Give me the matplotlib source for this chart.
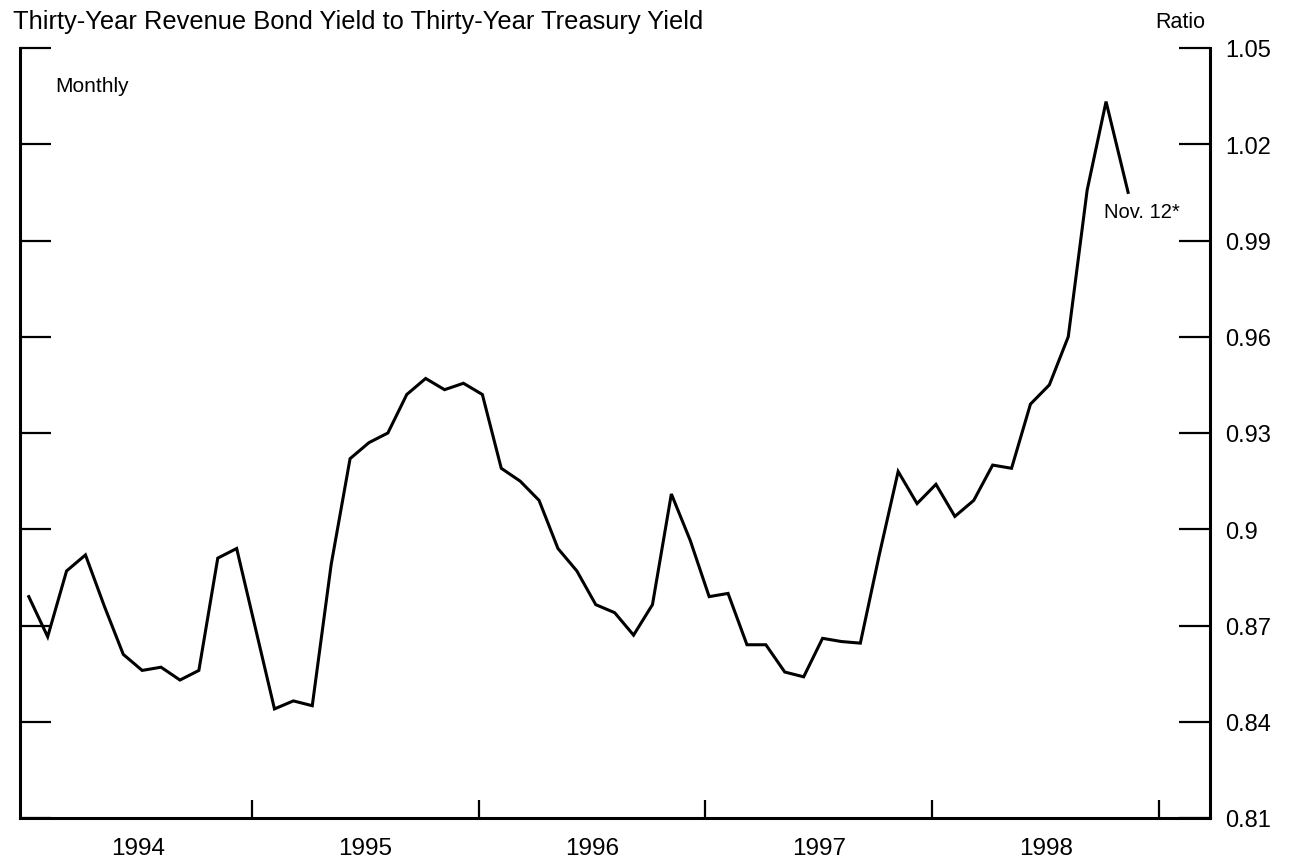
import matplotlib
matplotlib.use("Agg")
import matplotlib.pyplot as plt
from matplotlib.ticker import FixedLocator, NullFormatter, FixedFormatter

plt.rcParams['font.family'] = ['Liberation Sans', 'DejaVu Sans']

# Monthly ratio, Jan 1994 .. Oct 1998
start_year = 1994
ratio = [
    0.879, 0.8665, 0.887, 0.892, 0.876, 0.861, 0.856, 0.857, 0.853, 0.856, 0.891, 0.894,   # 1994
    0.869, 0.844, 0.8465, 0.845, 0.889, 0.922, 0.927, 0.930, 0.942, 0.947, 0.9435, 0.9455,  # 1995
    0.942, 0.919, 0.915, 0.909, 0.894, 0.887, 0.8765, 0.874, 0.867, 0.8765, 0.911, 0.8965,  # 1996
    0.879, 0.880, 0.864, 0.864, 0.8555, 0.854, 0.866, 0.865, 0.8645, 0.892, 0.918, 0.908,  # 1997
    0.914, 0.904, 0.909, 0.920, 0.919, 0.939, 0.945, 0.960, 1.0057, 1.0333,                 # 1998
]
last_label = "Nov. 12*"
last_month = 11      # November
last_day = 12
last_value = 1.005

y_ticks = [0.81, 0.84, 0.87, 0.90, 0.93, 0.96, 0.99, 1.02, 1.05]
y_ticklabels = ["0.81", "0.84", "0.87", "0.9", "0.93", "0.96", "0.99", "1.02", "1.05"]
years = [1994, 1995, 1996, 1997, 1998]
year_bounds = [1995, 1996, 1997, 1998, 1999]

title = "Thirty-Year Revenue Bond Yield to Thirty-Year Treasury Yield"

# positions (fractional years)
x = [start_year + (i + 0.2) / 12 for i in range(len(ratio))]
x_last = 1998 + (last_month - 1 + (last_day - 1) / 30) / 12
xs = x + [x_last]
ys = ratio + [last_value]

W, H = 1291, 862
fig = plt.figure(figsize=(W / 100, H / 100), dpi=100)
fig.patch.set_facecolor("white")
L, R, T, B = 20, 1210, 49, 819
ax = fig.add_axes([L / W, 1 - B / H, (R - L) / W, (B - T) / H])

ax.plot(xs, ys, color="black", lw=2.2, solid_joinstyle="miter")

ax.set_xlim(1993.978, 1999.225)
ax.set_ylim(0.81, 1.05)

for s in ["left", "right", "bottom"]:
    ax.spines[s].set_linewidth(2.2)
ax.spines["top"].set_visible(False)

ax.yaxis.set_major_locator(FixedLocator(y_ticks))
ax.yaxis.set_major_formatter(FixedFormatter(y_ticklabels))
ax.tick_params(axis="y", which="major", direction="in", length=22, width=1.6,
               left=True, right=True, labelleft=False, labelright=True,
               labelsize=17, pad=11)

ax.xaxis.set_major_locator(FixedLocator(year_bounds))
ax.xaxis.set_major_formatter(NullFormatter())
ax.xaxis.set_minor_locator(FixedLocator([y + 0.5 for y in years]))
ax.xaxis.set_minor_formatter(FixedFormatter([str(y) for y in years]))
ax.tick_params(axis="x", which="major", direction="in", length=13, width=1.6)
ax.tick_params(axis="x", which="minor", length=0, labelsize=17.5, pad=14)

ax.annotate(last_label, xy=(x_last, last_value), xytext=(-17, -14),
            textcoords="offset points", ha="left", va="center", fontsize=14.5)

fig.text(13 / W, 1 - 22 / H, title, ha="left", va="center", fontsize=18.4)
fig.text(55 / W, 1 - 87 / H, "Monthly", ha="left", va="center", fontsize=15)
fig.text(1205 / W, 1 - 22.5 / H, "Ratio", ha="right", va="center", fontsize=15.5)

fig.savefig("out.png", dpi=100, facecolor="white")
